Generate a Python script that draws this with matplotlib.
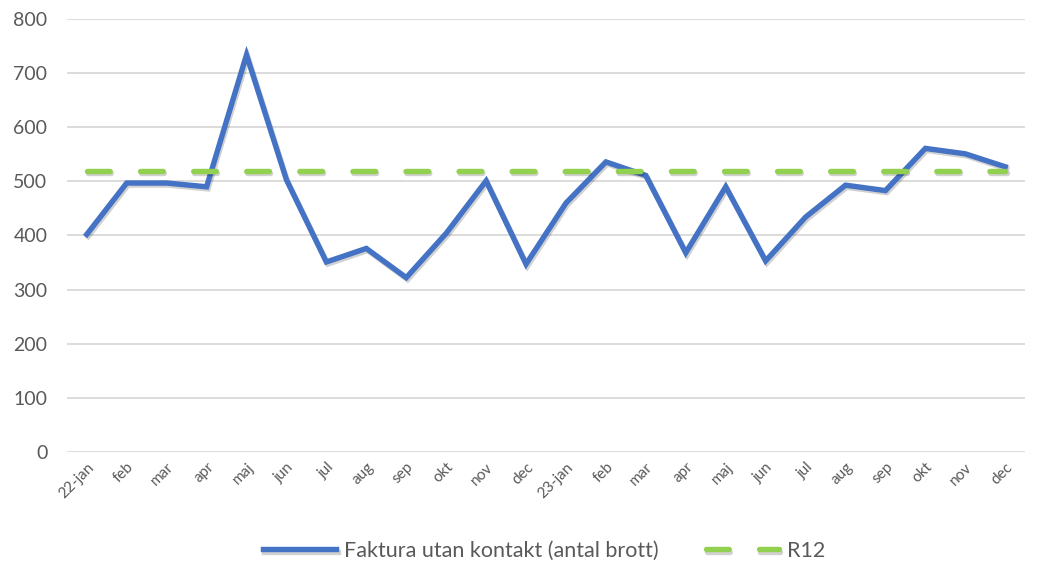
import matplotlib
matplotlib.use("Agg")
import matplotlib.pyplot as plt
import matplotlib.patheffects as pe

categories = ["22-jan", "feb", "mar", "apr", "maj", "jun", "jul", "aug", "sep", "okt", "nov", "dec",
              "23-jan", "feb", "mar", "apr", "maj", "jun", "jul", "aug", "sep", "okt", "nov", "dec"]
faktura = [402, 497, 497, 490, 734, 503, 351, 376, 322, 404, 501, 347,
           460, 536, 511, 368, 490, 353, 434, 493, 483, 561, 551, 527]
r12 = [520] * 24

plt.rcParams['font.family'] = ['Lato', 'DejaVu Sans']

fig = plt.figure(figsize=(10.44, 5.64), dpi=100)
ax = fig.add_axes([0.064, 0.199, 0.918, 0.767])

x = list(range(len(categories)))
shadow = [pe.SimpleLineShadow(offset=(1, -1.5), shadow_color='black', alpha=0.18), pe.Normal()]
ax.plot(x, faktura, color='#4472C4', lw=3.9, solid_joinstyle='miter', zorder=3,
        label='Faktura utan kontakt (antal brott)', path_effects=shadow)
ax.plot(x, r12, color='#92D050', lw=3.9, dashes=(4.2, 5.6), dash_capstyle='round', zorder=4,
        label='R12', path_effects=shadow)

ax.set_ylim(0, 800)
ax.set_yticks(range(0, 801, 100))
ax.set_xlim(-0.5, 23.5)
ax.set_xticks(x)
ax.set_xticklabels(categories, rotation=45, ha='right', rotation_mode='anchor')
ax.grid(axis='y', color='#D9D9D9', lw=1.3)
ax.set_axisbelow(True)
for s in ax.spines.values():
    s.set_visible(False)
ax.tick_params(axis='both', length=0, colors='#595959')
ax.tick_params(axis='y', labelsize=14, pad=14)
ax.tick_params(axis='x', labelsize=11, pad=6)

leg = fig.legend(loc='center', bbox_to_anchor=(0.521, 0.023), ncol=2, frameon=False,
                 fontsize=15.5, handlelength=3.4, columnspacing=2.2, handletextpad=0.35)
for t in leg.get_texts():
    t.set_color('#595959')

fig.savefig('out.png', dpi=100)
